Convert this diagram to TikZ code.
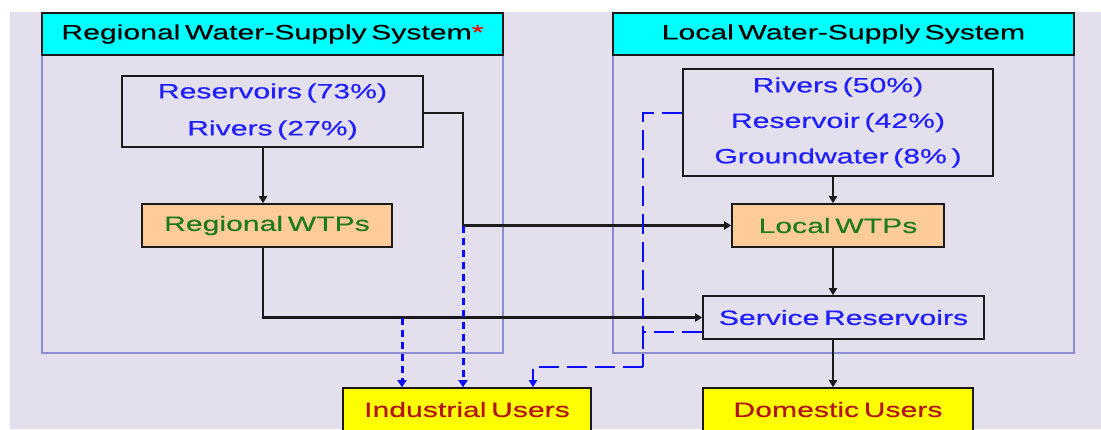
\documentclass[tikz,border=0pt]{standalone}
\usepackage{fontspec}
\setmainfont{Liberation Sans}[FakeStretch=1.45,FakeBold=0.4,WordSpace=0.55]
\usetikzlibrary{arrows.meta,calc}

\definecolor{bgpanel}{HTML}{E4DFEC}
\definecolor{framecol}{HTML}{8C8CD2}
\definecolor{headfill}{HTML}{00FFFF}
\definecolor{wtpfill}{HTML}{FFCC99}
\definecolor{userfill}{HTML}{FFFF00}
\definecolor{srctext}{HTML}{1E1EFF}
\definecolor{wtptext}{HTML}{1E7A1E}
\definecolor{usertext}{HTML}{B41414}
\definecolor{edgecol}{HTML}{1A1A1A}
\definecolor{pipeblue}{HTML}{0A0AFF}

\tikzset{
  sysframe/.style={draw=framecol, line width=1.5pt, inner sep=0pt},
  syshead/.style={draw=edgecol, fill=headfill, line width=2pt, inner sep=0pt,
    text=black, font=\fontsize{20.8}{24}\selectfont},
  srcbox/.style={draw=edgecol, line width=1.6pt, inner sep=0pt, align=center,
    text=srctext},
  wtpbox/.style={draw=edgecol, fill=wtpfill, line width=1.6pt, inner sep=0pt,
    text=wtptext, font=\fontsize{20.8}{24}\selectfont},
  resbox/.style={draw=edgecol, line width=1.6pt, inner sep=0pt,
    text=srctext, font=\fontsize{20.8}{24}\selectfont},
  userbox/.style={draw=edgecol, fill=userfill, line width=1.6pt, inner sep=0pt,
    text=usertext, font=\fontsize{20.8}{24}\selectfont},
  flow/.style={draw=edgecol, line width=2.4pt,
    -{Triangle[length=7pt,width=8pt]}},
  tapshort/.style={draw=pipeblue, line width=3pt, dash pattern=on 7pt off 5pt,
    -{Triangle[length=7pt,width=9pt]}},
  taplong/.style={draw=pipeblue, line width=2.2pt, dash pattern=on 20pt off 8pt},
  taplongarrow/.style={taplong, -{Triangle[length=7pt,width=8pt]}},
}

\begin{document}
\begin{tikzpicture}[x=1pt,y=-1pt]
  % canvas and panel background
  \clip (0,0) rectangle (1101,429);
  \fill[white] (0,0) rectangle (1101,429);
  \fill[bgpanel] (10,12) rectangle (1101,429);

  % system frames and headers
  \node[sysframe, minimum width=461pt, minimum height=298pt] (rframe) at (272.5,204) {};
  \node[sysframe, minimum width=461pt, minimum height=298pt] (lframe) at (843.5,204) {};
  \node[syshead, minimum width=461pt, minimum height=42pt] (rhead) at (272.5,34)
    {Regional Water-Supply System\textcolor{red}{*}};
  \node[syshead, minimum width=461pt, minimum height=42pt] (lhead) at (843.5,34)
    {Local Water-Supply System};

  % regional system
  \node[srcbox, minimum width=301pt, minimum height=71pt,
        font=\fontsize{20.8}{37}\selectfont] (rsrc) at (272.5,111.5)
    {Reservoirs (73\%)\\Rivers (27\%)};
  \node[wtpbox, minimum width=250pt, minimum height=43pt] (rwtp) at (267,225.5)
    {Regional WTPs};

  % local system
  \node[srcbox, minimum width=310pt, minimum height=107pt,
        font=\fontsize{20.8}{35.5}\selectfont] (lsrc) at (838,122.5)
    {Rivers (50\%)\\Reservoir (42\%)\\Groundwater (8\% )};
  \node[wtpbox, minimum width=212pt, minimum height=43pt] (lwtp) at (838,225.5)
    {Local WTPs};
  \node[resbox, minimum width=281pt, minimum height=43pt] (srv) at (843.5,317.5)
    {Service Reservoirs};

  % users
  \node[userbox, minimum width=248pt, minimum height=43pt] (ind) at (467,409.5)
    {Industrial Users};
  \node[userbox, minimum width=270pt, minimum height=43pt] (dom) at (838,409.5)
    {Domestic Users};

  % junction points on the mains
  \coordinate (tapA) at (463,225.5);
  \coordinate (tapB) at (402,317.5);
  \coordinate (lbend) at (643,113);
  \coordinate (lfoot) at (643,367);
  \coordinate (ldrop) at (533,367);

  % treated-water mains (black)
  \draw[flow] ([xshift=-9.5pt]rsrc.south) -- ([xshift=-9.5pt]rsrc.south |- rwtp.north);
  \draw[flow] ([yshift=-1.5pt]rsrc.east) -| (tapA) -- (lwtp.west);
  \draw[flow] ([xshift=-4pt]rwtp.south) |- (srv.west);
  \draw[flow] ([xshift=-5pt]lsrc.south) -- ([xshift=-5pt]lsrc.south |- lwtp.north);
  \draw[flow] ([xshift=-5pt]lwtp.south) -- ([xshift=-5pt]lwtp.south |- srv.north);
  \draw[flow] ([xshift=-10.5pt]srv.south) -- ([xshift=-10.5pt]srv.south |- dom.north);

  % industrial supply taps (blue dashed)
  \draw[tapshort] (tapB) -- (tapB |- ind.north);
  \draw[tapshort] (tapA) -- (tapA |- ind.north);
  \draw[taplong] ([yshift=9.5pt]lsrc.west) -- (lbend) -- (lfoot);
  \draw[taplong] ([yshift=-14.5pt]srv.west) -| (lfoot);
  \draw[taplongarrow] (lfoot) -- (ldrop) -- (ldrop |- ind.north);
\end{tikzpicture}
\end{document}
